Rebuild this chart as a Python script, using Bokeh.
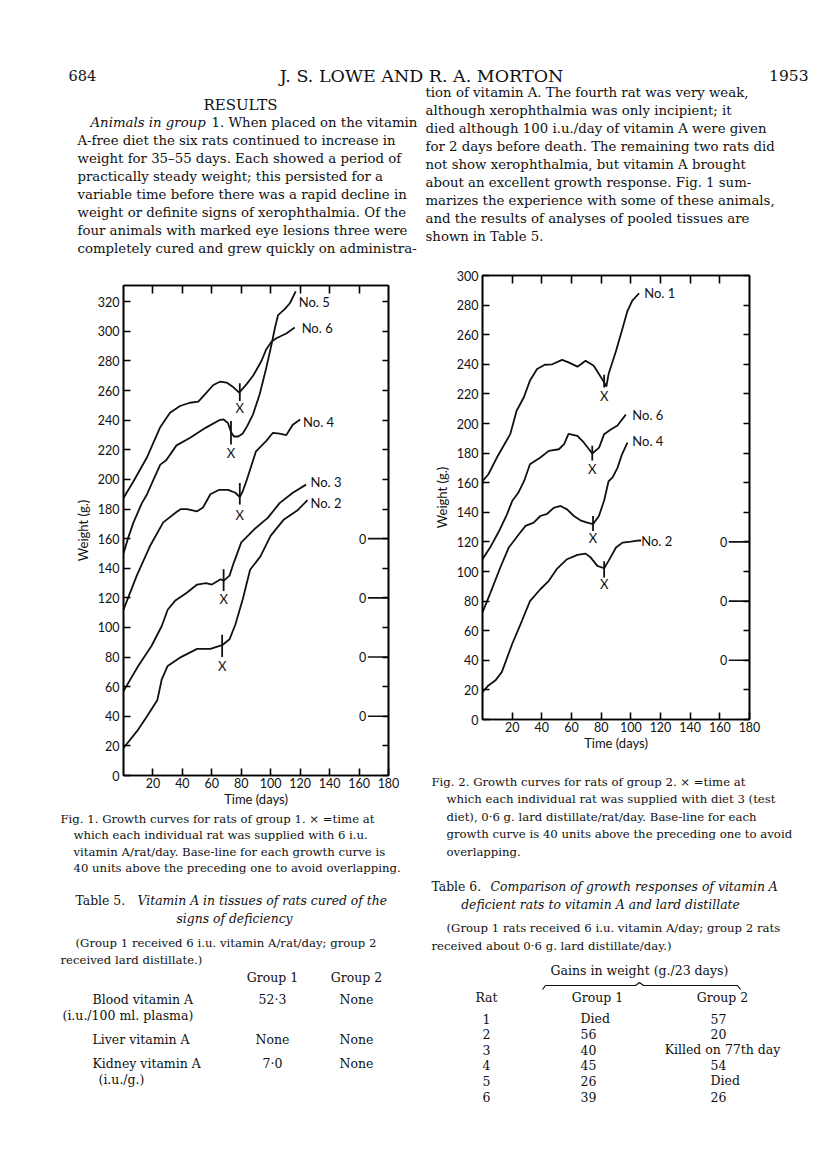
from bokeh.plotting import figure
from bokeh.models import Range1d, LinearAxis, FixedTicker, CustomJSTickFormatter, ColumnDataSource
from bokeh.layouts import column, row
from bokeh.core.properties import value
from bokeh.embed import file_html
from bokeh.resources import INLINE

SANS = "Lato"
SERIF = "DejaVu Serif"

# ---------------- Fig. 1 data (group 1) : weight incl. 40-unit base-line offsets ----------------
f1_no2_day = [0, 10, 16, 23, 26, 30, 39, 50, 59, 67, 72, 76, 81, 86, 93, 100, 109, 118, 122, 125]
f1_no2_wt = [18.6, 31, 40, 51, 65, 74, 80, 85.5, 85.5, 88, 92, 102, 119, 139, 148, 162, 173, 179, 183, 186]
f1_no3_day = [0, 10, 19, 26, 30, 35, 43, 50, 56, 60, 66, 68, 72, 75, 80, 89, 98, 106, 115, 124]
f1_no3_wt = [57, 74, 87.5, 101, 112, 118, 123.5, 129, 130, 129, 132.6, 131.5, 135, 144, 157.5, 166.5, 174, 184, 191, 196.5]
f1_no4_day = [0, 9, 18, 27, 36, 39, 43, 50, 54, 59, 65, 71, 76, 79, 81, 83.5, 90, 97, 101.5, 106, 110.6, 115, 120]
f1_no4_wt = [112, 135, 155, 171, 178, 180, 180, 178.5, 181, 190, 193, 193, 191, 188, 192, 199, 219, 226, 231.5, 231, 230, 237, 240.5]
f1_no5_day = [0, 3, 6.8, 12.5, 16, 20, 25, 29, 36, 45, 56, 65, 68, 71, 73, 75, 78, 81, 84, 88, 92.5, 97, 100.5, 103, 105, 109.5, 113, 117]
f1_no5_wt = [150, 160, 171, 184, 190, 199, 210, 213, 223, 228, 235, 240, 240.5, 238, 232, 229, 229, 231, 236, 244, 257.5, 275.5, 291, 303, 311, 315, 319, 327]
f1_no6_day = [0, 6.8, 15.8, 24.8, 31.6, 38.4, 45, 50.8, 55.3, 61, 65.5, 70, 74.5, 78.6, 83.5, 88, 93.7, 97, 100.5, 103.8, 110.6, 116.3]
f1_no6_wt = [187.5, 198.8, 214.6, 235, 245, 249.6, 251.8, 252.5, 257.5, 263.8, 266, 265.4, 262.4, 258.6, 264.2, 270, 280, 288, 293, 295.4, 298.6, 302.6]
f1_names = ["No. 2", "No. 3", "No. 4", "No. 5", "No. 6"]
f1_name_day = [127, 127, 122, 119, 121]
f1_name_wt = [184, 198, 239, 320, 302]
f1_x_day = [67, 68, 79, 73, 79]
f1_x_lo = [80, 124.7, 183, 223.6, 253]
f1_x_hi = [95, 139.4, 197.6, 239.4, 265]
f1_x_mark = [74, 119, 176, 218, 248]
f1_baselines = [40, 80, 120, 160]

# ---------------- Fig. 2 data (group 2) ----------------
f2_no2_day = [0, 4, 8.6, 13, 20, 26.6, 32, 39, 44.7, 50, 57, 64, 69.5, 73, 77.4, 82, 85, 90, 94.4, 100, 105.6]
f2_no2_wt = [18.4, 23, 26.3, 32, 51, 66.7, 80, 88, 93.7, 101.6, 108.3, 111.2, 112.1, 109.4, 103.8, 102.2, 107.2, 116.2, 119.5, 120.2, 121]
f2_no4_day = [0, 5, 12, 17.6, 24.4, 29, 34.5, 39, 43.6, 48, 52.6, 57, 61.6, 66, 70.6, 74.5, 78.5, 82, 85, 87.6, 91, 94, 97.7]
f2_no4_wt = [72.4, 84.7, 102.7, 116, 125, 130.8, 133, 137.5, 139, 143, 144.3, 142, 137.5, 134.6, 133, 132, 137.5, 148, 161, 163.4, 170, 179, 187]
f2_no6_day = [0, 5, 11, 16.5, 20, 24, 28, 32, 39, 44.7, 51.5, 55, 58, 64, 68.4, 74, 78.6, 82, 86.5, 91, 96.6]
f2_no6_wt = [108.3, 116, 127, 138.6, 147.6, 153, 161, 172.5, 177, 181.5, 182.6, 186, 193, 191.6, 187, 179.7, 183.7, 192.8, 196, 198.6, 206]
f2_no1_day = [0, 4, 9.7, 18.7, 23, 27.8, 32, 36.8, 42, 47, 53.7, 58, 64, 69.5, 75, 78.5, 82, 83.5, 85, 90, 94, 97.7, 101, 105.6]
f2_no1_wt = [161, 165.7, 177, 192.8, 208.6, 217.6, 229, 236.8, 239.7, 240, 243, 241.3, 238.4, 242.4, 239, 233.4, 227.8, 225, 233.4, 249, 262.8, 276, 283, 288]
f2_names = ["No. 2", "No. 4", "No. 6", "No. 1"]
f2_name_day = [107, 101, 101, 109]
f2_name_wt = [120.5, 188, 206, 288]
f2_x_day = [82, 74.5, 74, 82]
f2_x_lo = [96, 127.4, 175, 224.4]
f2_x_hi = [107, 137.5, 185, 233]
f2_x_mark = [91.5, 122.5, 169, 218.7]
f2_baselines = [40, 80, 120]

days_ticks = [20, 40, 60, 80, 100, 120, 140, 160, 180]

# ---------------- tables ----------------
t5_rows = ["Blood vitamin A", "Liver vitamin A", "Kidney vitamin A"]
t5_sub = ["(i.u./100 ml. plasma)", "", "(i.u./g.)"]
t5_g1 = ["52·3", "None", "7·0"]
t5_g2 = ["None", "None", "None"]
t6_rat = ["1", "2", "3", "4", "5", "6"]
t6_g1 = ["Died", "56", "40", "45", "26", "39"]
t6_g2 = ["57", "20", "Killed on 77th day", "54", "Died", "26"]

left_lines = [
    "A-free diet the six rats continued to increase in",
    "weight for 35–55 days.  Each showed a period of",
    "practically steady weight; this persisted for a",
    "variable time before there was a rapid decline in",
    "weight or definite signs of xerophthalmia.  Of the",
    "four animals with marked eye lesions three were",
    "completely cured and grew quickly on administra-",
]
right_lines = [
    "tion of vitamin A. The fourth rat was very weak,",
    "although xerophthalmia was only incipient; it",
    "died although 100 i.u./day of vitamin A were given",
    "for 2 days before death. The remaining two rats did",
    "not show xerophthalmia, but vitamin A brought",
    "about an excellent growth response.  Fig. 1 sum-",
    "marizes the experience with some of these animals,",
    "and the results of analyses of pooled tissues are",
    "shown in Table 5.",
]
fig1_caption = [
    "Fig. 1.  Growth curves for rats of group 1.  × =time at",
    "which each individual rat was supplied with 6 i.u.",
    "vitamin A/rat/day.  Base-line for each growth curve is",
    "40 units above the preceding one to avoid overlapping.",
]
fig2_caption = [
    "Fig. 2.  Growth curves for rats of group 2.  × =time at",
    "which each individual rat was supplied with diet 3 (test",
    "diet), 0·6 g. lard distillate/rat/day.  Base-line for each",
    "growth curve is 40 units above the preceding one to avoid",
    "overlapping.",
]


def text_fig(x0, x1, y0, y1):
    p = figure(width=x1 - x0, height=y1 - y0, x_range=Range1d(x0, x1), y_range=Range1d(y1, y0),
               x_axis_type=None, y_axis_type=None, toolbar_location=None, output_backend="svg",
               min_border=0)
    p.outline_line_color = None
    return p


def T(p, x, y, s, size=13, font=SERIF, style="normal", align="left", color="#111111"):
    p.text(x=[x], y=[y], text=[s], text_font=value(font), text_font_size=f"{size}px",
           text_font_style=style, text_align=align, text_baseline="middle", text_color=color)


def blank():
    return CustomJSTickFormatter(code="return ''")


def style_axis(ax):
    ax.axis_line_color = "black"
    ax.axis_line_width = 1.6
    ax.major_tick_in = 7
    ax.major_tick_out = 0
    ax.minor_tick_in = 0
    ax.minor_tick_out = 0
    ax.major_tick_line_width = 1.6
    ax.major_tick_line_color = "black"
    ax.major_label_text_font = SANS
    ax.major_label_text_font_size = "12.5px"
    ax.major_label_text_color = "#111111"
    ax.major_label_standoff = 2
    ax.axis_label_text_font = SANS
    ax.axis_label_text_font_size = "13px"
    ax.axis_label_text_font_style = "normal"
    ax.axis_label_text_color = "#111111"
    ax.axis_label_standoff = 0


def chart(width, height, ymax, yticks, bl, br, bt, bb):
    p = figure(width=width, height=height, x_range=Range1d(0, 180), y_range=Range1d(0, ymax),
               x_axis_type=None, y_axis_type=None, toolbar_location=None, output_backend="svg",
               min_border_left=bl, min_border_right=br, min_border_top=bt, min_border_bottom=bb)
    p.outline_line_color = "black"
    p.outline_line_width = 1.6
    xb = LinearAxis(ticker=FixedTicker(ticks=days_ticks), axis_label="Time (days)")
    style_axis(xb)
    p.add_layout(xb, "below")
    yl = LinearAxis(ticker=FixedTicker(ticks=yticks), axis_label="Weight (g.)")
    style_axis(yl)
    yl.major_label_standoff = 4
    yl.axis_label_standoff = 4
    p.add_layout(yl, "left")
    xt = LinearAxis(ticker=FixedTicker(ticks=days_ticks[:-1]), formatter=blank())
    style_axis(xt)
    xt.major_tick_in = 8
    xt.major_label_standoff = 0
    p.add_layout(xt, "above")
    yr = LinearAxis(ticker=FixedTicker(ticks=yticks), formatter=blank())
    style_axis(yr)
    yr.major_tick_in = 6
    yr.major_label_standoff = 0
    p.add_layout(yr, "right")
    return p


def draw_curves(p, curves, names, nday, nwt, xd, xlo, xhi, xm, baselines):
    for d, w in curves:
        p.line(d, w, line_color="#111111", line_width=1.8)
    p.text(x=nday, y=nwt, text=names, text_font=value(SANS), text_font_size="13px",
           text_align="left", text_baseline="middle", text_color="#111111")
    p.segment(x0=xd, y0=xlo, x1=xd, y1=xhi, line_color="#111111", line_width=1.8)
    p.text(x=xd, y=xm, text=["X"] * len(xd), text_font=value(SANS), text_font_size="13px",
           text_align="center", text_baseline="middle", text_color="#111111")
    src = ColumnDataSource(dict(y=baselines, x0=[166] * len(baselines), x1=[180] * len(baselines),
                                t=["0"] * len(baselines), xt=[162.5] * len(baselines)))
    p.segment(x0="x0", y0="y", x1="x1", y1="y", source=src, line_color="#111111", line_width=1.6)
    p.text(x="xt", y="y", text="t", source=src, text_font=value(SANS), text_font_size="12.5px",
           text_align="center", text_baseline="middle", text_color="#111111")


BODY = 13.3
CAP = 11.7
TAB = 12.5
TTL = 12.4

# ---------------- top text block ----------------
top = text_fig(0, 816, 0, 262)
T(top, 68, 75, "684", size=14.5)
T(top, 421, 75, "J. S. LOWE AND R. A. MORTON", size=17.5, align="center")
T(top, 808, 75, "1953", size=15.5, align="right")
T(top, 240, 104, "RESULTS", size=15, align="center")
T(top, 90, 122, "Animals in group", size=BODY, style="italic")
T(top, 211, 122, "1. When placed on the vitamin", size=BODY)
for i, s in enumerate(left_lines):
    T(top, 77, 122 + 18 * (i + 1), s, size=BODY)
for i, s in enumerate(right_lines):
    T(top, 425, 92 + 18 * i, s, size=BODY)

# ---------------- charts ----------------
p1 = chart(408, 547, 331, list(range(0, 321, 20)), 123, 20, 23, 34)
draw_curves(p1, [(f1_no2_day, f1_no2_wt), (f1_no3_day, f1_no3_wt), (f1_no4_day, f1_no4_wt),
                 (f1_no5_day, f1_no5_wt), (f1_no6_day, f1_no6_wt)],
            f1_names, f1_name_day, f1_name_wt, f1_x_day, f1_x_lo, f1_x_hi, f1_x_mark, f1_baselines)

p2 = chart(408, 491, 300, list(range(0, 301, 20)), 74, 67, 13, 34)
draw_curves(p2, [(f2_no2_day + [107], f2_no2_wt + [120.8]), (f2_no4_day, f2_no4_wt),
                 (f2_no6_day, f2_no6_wt), (f2_no1_day, f2_no1_wt)],
            f2_names, f2_name_day, f2_name_wt, f2_x_day, f2_x_lo, f2_x_hi, f2_x_mark, f2_baselines)

# ---------------- left bottom: caption + Table 5 ----------------
lb = text_fig(0, 408, 809, 1160)
for i, s in enumerate(fig1_caption):
    T(lb, 60 if i == 0 else 73, 818 + 16.5 * i, s, size=CAP)
T(lb, 75, 900, "Table 5.", size=TTL)
T(lb, 137, 900, "Vitamin A in tissues of rats cured of the", size=TTL, style="italic")
T(lb, 234, 918, "signs of deficiency", size=TTL, style="italic", align="center")
T(lb, 75, 942, "(Group 1 received 6 i.u. vitamin A/rat/day; group 2", size=CAP)
T(lb, 60, 959, "received lard distillate.)", size=CAP)
g1x, g2x = 272, 356
T(lb, g1x, 977, "Group 1", size=TAB, align="center")
T(lb, g2x, 977, "Group 2", size=TAB, align="center")
row_y = [999, 1039, 1063]
for i in range(3):
    T(lb, 92, row_y[i], t5_rows[i], size=TAB)
    if t5_sub[i]:
        T(lb, 62 if i == 0 else 98, row_y[i] + 16, t5_sub[i], size=TAB)
    T(lb, g1x, row_y[i], t5_g1[i], size=TAB, align="center")
    T(lb, g2x, row_y[i], t5_g2[i], size=TAB, align="center")

# ---------------- right bottom: caption + Table 6 ----------------
rb = text_fig(408, 816, 753, 1160)
for i, s in enumerate(fig2_caption):
    T(rb, 431 if i == 0 else 446, 781 + 17.5 * i, s, size=CAP)
T(rb, 431, 886, "Table 6.", size=TTL)
T(rb, 490, 886, "Comparison of growth responses of vitamin A", size=TTL, style="italic")
T(rb, 600, 904, "deficient rats to vitamin A and lard distillate", size=TTL, style="italic", align="center")
T(rb, 446, 927, "(Group 1 rats received 6 i.u. vitamin A/day; group 2 rats", size=CAP)
T(rb, 431, 945, "received about 0·6 g. lard distillate/day.)", size=CAP)
T(rb, 639, 970, "Gains in weight (g./23 days)", size=TAB, align="center")
bx0, bx1, bmid, by = 542, 740, 639, 985
rb.line([bx0, bx0 + 3, bmid - 4, bmid, bmid + 4, bx1 - 3, bx1],
        [by + 4, by, by, by - 3, by, by, by + 4], line_color="#111111", line_width=1.2)
rat_x, c1x, c2x = 486, 597, 722
T(rb, rat_x, 997, "Rat", size=TAB, align="center")
T(rb, c1x, 997, "Group 1", size=TAB, align="center")
T(rb, c2x, 997, "Group 2", size=TAB, align="center")
for i in range(6):
    y = 1018 + 15.6 * i
    T(rb, rat_x, y, t6_rat[i], size=TAB, align="center")
    T(rb, 580, y, t6_g1[i], size=TAB)
    if t6_g2[i].startswith("Killed"):
        T(rb, c2x, y, t6_g2[i], size=TAB, align="center")
    else:
        T(rb, 710, y, t6_g2[i], size=TAB)

left_col = column(p1, row(lb, spacing=0), spacing=0)
right_col = column(p2, row(rb, spacing=0), spacing=0)
layout = column(top, row(left_col, right_col, spacing=0), spacing=0)
open("out.html", "w").write(file_html(layout, INLINE))
